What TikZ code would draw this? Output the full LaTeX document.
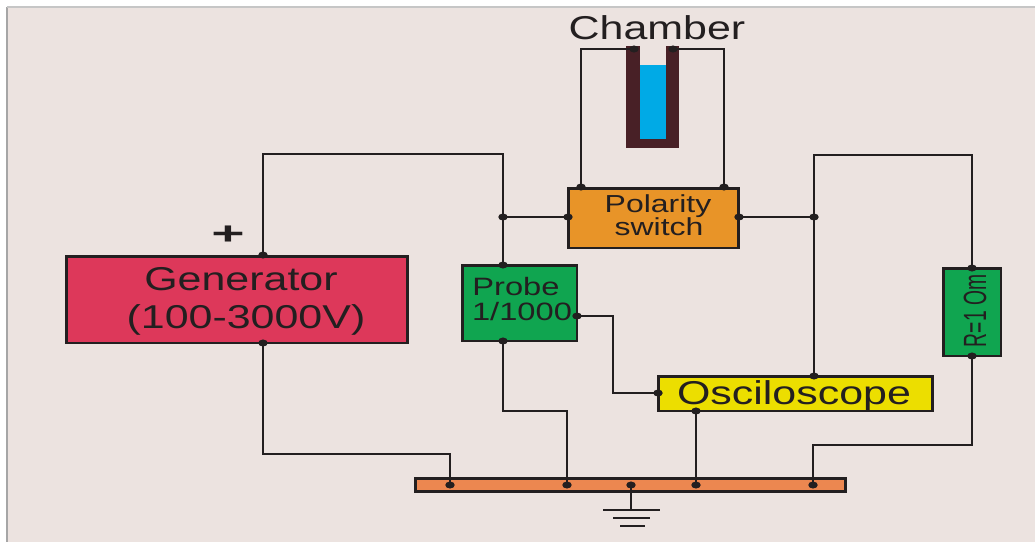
\documentclass[tikz,border=0pt]{standalone}
\usepackage{fontspec}
\setmainfont[FakeStretch=1.3]{Liberation Sans}
\newfontfamily\resfont[FakeStretch=0.6]{Liberation Sans}
\definecolor{wallc}{RGB}{236,227,224}
\definecolor{genc}{RGB}{221,56,90}
\definecolor{probec}{RGB}{16,165,80}
\definecolor{switchc}{RGB}{232,148,40}
\definecolor{oscc}{RGB}{236,222,0}
\definecolor{barc}{RGB}{236,135,80}
\definecolor{glassc}{RGB}{72,32,38}
\definecolor{waterc}{RGB}{0,170,230}
\definecolor{wirec}{RGB}{35,31,32}
\usetikzlibrary{shapes.geometric}
\tikzset{
	box/.style={draw=wirec, line width=1.7pt, outer sep=0pt, inner sep=0pt},
	lab/.style={text=wirec, inner sep=0pt},
	wire/.style={draw=wirec, line width=1.5pt},
	pin/.style={fill=wirec, draw=none, ellipse, minimum width=5.4pt, minimum height=4pt, inner sep=0pt}
}
\begin{document}
\begin{tikzpicture}[x=0.02cm, y=-0.02cm]
	\useasboundingbox (0,0) rectangle (1035,542);
	\fill[white] (0,0) rectangle (1035,542);
	\fill[wallc] (7,7) rectangle (1035,542);
	\draw[gray!70, line width=1pt] (7,7) -- (7,542);
	\draw[gray!45, line width=.6pt] (7,7) -- (1035,7);
	% chamber
	\fill[glassc] (626,46) rectangle (679,148);
	\fill[wallc] (640,46) rectangle (666,139);
	\fill[waterc] (640,65) rectangle (666,139);
	\node[lab, font=\fontsize{18.8}{20}\selectfont] (title) at (657,27.5) {Chamber};
	% boxes
	\node[box, fill=genc, minimum width=6.84cm, minimum height=1.74cm] (gen) at (237,299.5) {};
	\node[box, fill=probec, minimum width=2.30cm, minimum height=1.52cm] (probe) at (519.5,303) {};
	\node[box, fill=switchc, minimum width=3.42cm, minimum height=1.20cm] (switch) at (653.5,218) {};
	\node[box, fill=oscc, minimum width=5.50cm, minimum height=0.70cm] (osc) at (795.5,393.5) {};
	\node[box, fill=probec, minimum width=1.16cm, minimum height=1.76cm] (res) at (972,312) {};
	\node[box, fill=barc, minimum width=8.62cm, minimum height=0.26cm] (bar) at (630.5,484.5) {};
	% labels
	\node[lab, font=\fontsize{18.8}{20}\selectfont] (genlabA) at (241,279) {Generator};
	\node[lab, font=\fontsize{18.8}{20}\selectfont] (genlabB) at (246,319.5) {(100-3000V)};
	\node[lab, font=\fontsize{14.3}{16}\selectfont] (problabA) at (516,287) {Probe};
	\node[lab, font=\fontsize{14.3}{16}\selectfont] (problabB) at (522,312) {1/1000};
	\node[lab, font=\fontsize{14}{16}\selectfont] (swlabA) at (658,206) {Polarity};
	\node[lab, font=\fontsize{14}{16}\selectfont] (swlabB) at (659,227) {switch};
	\node[lab, font=\fontsize{18.8}{20}\selectfont] (osclab) at (794,395.5) {Osciloscope};
	\node[lab, rotate=90, font=\resfont\fontsize{18.3}{20}\selectfont] (reslabel) at (975,311) {R=1 Om};
	\node[lab, transform shape, xscale=1.25, yscale=.9, font=\bfseries\fontsize{20}{20}\selectfont] (plus) at (228,235) {+};
	% pins
	\foreach \name/\px/\py in {genT/263/255, genB/263/343, probeT/503/265, probeB/503/341, probeR/577/316,
		swL/568/217, swR/739/217, swTL/581/187, swTR/724/187, chL/634/49, chR/673/49,
		joinL/503/217, joinR/814/217, oscL/658/393, oscT/814/376, oscB/696/411,
		resT/972/268, resB/972/356, barA/450/485, barB/567/485, barC/631/485, barD/696/485, barE/813/485}
		\node[pin] (\name) at (\px,\py) {};
	% wires
	\draw[wire] (genT.center) |- (joinL |- 0,154) -- (probeT.center);
	\draw[wire] (joinL.center) -- (swL.center);
	\draw[wire] (swR.center) -- (joinR.center);
	\draw[wire] (swTL.center) |- (chL.center);
	\draw[wire] (swTR.center) |- (chR.center);
	\draw[wire] (oscT.center) -- (814,155) -| (resT.center);
	\draw[wire] (genB.center) |- (barA |- 0,454) -- (barA.center);
	\draw[wire] (probeB.center) |- (barB |- 0,411) -- (barB.center);
	\draw[wire] (probeR.center) -- (613,316) |- (oscL.center);
	\draw[wire] (oscB.center) -- (barD.center);
	\draw[wire] (resB.center) |- (barE |- 0,445) -- (barE.center);
	% ground
	\coordinate (gndA) at (631,510);
	\draw[wire] (barC.center) -- (gndA);
	\draw[wire] (603,510) -- (660,510);
	\draw[wire] (613,518) -- (650,518);
	\draw[wire] (620,526) -- (645,526);
\end{tikzpicture}
\end{document}
